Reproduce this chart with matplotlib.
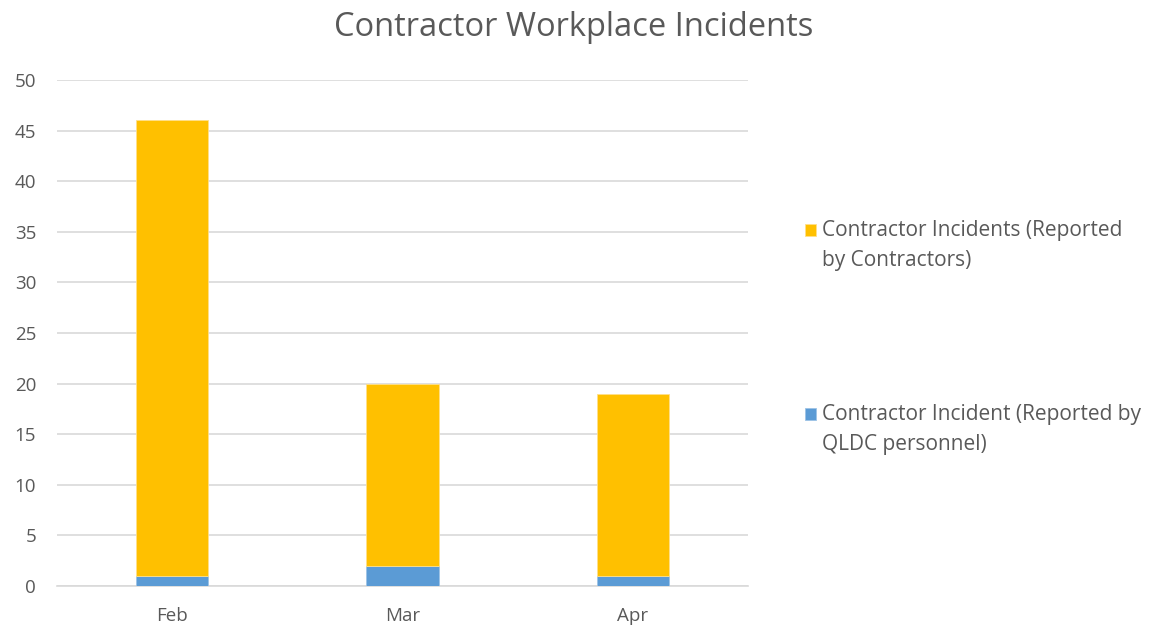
import matplotlib
matplotlib.use("Agg")
import matplotlib.pyplot as plt
import numpy as np

months = ["Feb", "Mar", "Apr"]
qldc_reported = [1, 2, 1]
contractor_reported = [45, 18, 18]
label_contractor = "Contractor Incidents (Reported\nby Contractors)"
label_qldc = "Contractor Incident (Reported by\nQLDC personnel)"
yticks = [0, 5, 10, 15, 20, 25, 30, 35, 40, 45, 50]

plt.rcParams['font.family'] = ['Open Sans', 'DejaVu Sans']

fig = plt.figure(figsize=(11.54, 6.26), dpi=100)
ax = fig.add_axes([57/1154, 1-586/626, (748-57)/1154, (586-80)/626])

x = np.arange(len(months))
w = 0.313
b1 = ax.bar(x, qldc_reported, w, color="#5B9BD5", edgecolor="#9DC3E6", linewidth=0.6, zorder=3, label=label_qldc)
b2 = ax.bar(x, contractor_reported, w, bottom=qldc_reported, color="#FFC000", edgecolor="#FFE08A", linewidth=0.6, zorder=3, label=label_contractor)

ax.set_xlim(-0.5, 2.5)
ax.set_ylim(0, 50)
ax.set_yticks(yticks)
ax.set_xticks(x)
ax.set_xticklabels(months)
ax.grid(axis='y', color="#D9D9D9", linewidth=1.2, zorder=0)
ax.set_axisbelow(True)
for s in ["top", "right", "left"]:
    ax.spines[s].set_visible(False)
ax.spines["bottom"].set_color("#D9D9D9")
ax.spines["bottom"].set_linewidth(1.2)
ax.tick_params(axis='both', length=0, colors="#595959", labelsize=13.5)
ax.tick_params(axis='y', pad=15)
ax.tick_params(axis='x', pad=15)

fig.text(0.497, 1-28/626, "Contractor Workplace Incidents", ha='center', va='center',
         fontsize=23.5, color="#595959")

leg = fig.legend([b2, b1], [label_contractor, label_qldc], loc='upper left',
                 bbox_to_anchor=(786/1154, 1-201/626), frameon=False, fontsize=15,
                 labelcolor="#595959", handlelength=0.55, handleheight=0.55,
                 handletextpad=0.3, labelspacing=6.4)
for t in leg.get_texts():
    t.set_linespacing(1.55)
# align legend squares with the first line of each label
for h in leg.legend_handles:
    h.set_y(h.get_y() + 11.5)

fig.savefig("out.png", dpi=100)
